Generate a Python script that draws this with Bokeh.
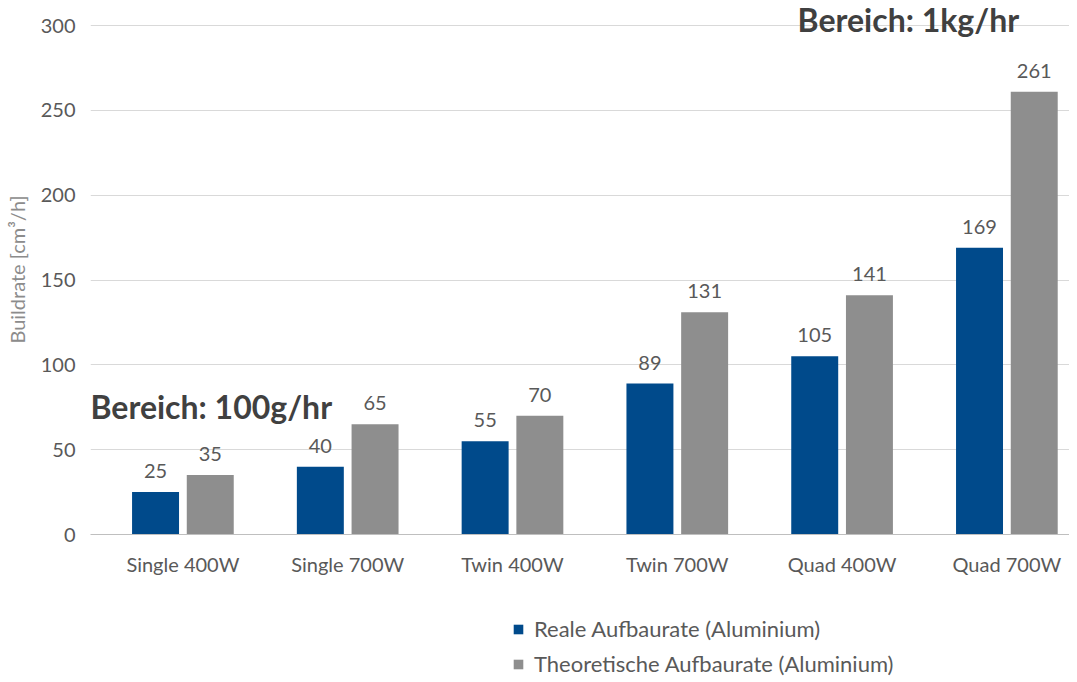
from bokeh.plotting import figure
from bokeh.layouts import column
from bokeh.models import (ColumnDataSource, Range1d, FixedTicker, LabelSet, Label,
                          Legend, LegendItem)
from bokeh.core.properties import value
from bokeh.embed import file_html
from bokeh.resources import INLINE

categories = ["Single 400W", "Single 700W", "Twin 400W", "Twin 700W", "Quad 400W", "Quad 700W"]
real_values = [25, 40, 55, 89, 105, 169]
theo_values = [35, 65, 70, 131, 141, 261]
series_names = ["Reale Aufbaurate (Aluminium)", "Theoretische Aufbaurate (Aluminium)"]
y_ticks = [0, 50, 100, 150, 200, 250, 300]

FONT = "Lato"
TXT = "#595959"
BLUE = "#004A8B"
GRAY = "#8E8E8E"

centers = [i + 0.5 for i in range(len(categories))]
off = 0.166
bw = 0.285

src_real = ColumnDataSource(dict(x=[c - off for c in centers], y=real_values,
                                 lab=[str(v) for v in real_values]))
src_theo = ColumnDataSource(dict(x=[c + off for c in centers], y=theo_values,
                                 lab=[str(v) for v in theo_values]))

p = figure(width=1069, height=590, output_backend="svg", toolbar_location=None,
           x_range=Range1d(-0.0607, 5.88), y_range=Range1d(0, 312.4),
           min_border_left=90, min_border_right=0, min_border_top=4, min_border_bottom=56)
p.outline_line_color = None
p.background_fill_color = "white"

r1 = p.vbar(x="x", top="y", width=bw, source=src_real, fill_color=BLUE, line_color=None)
r2 = p.vbar(x="x", top="y", width=bw, source=src_theo, fill_color=GRAY, line_color=None)

for s in (src_real, src_theo):
    p.add_layout(LabelSet(x="x", y="y", text="lab", source=s, text_align="center",
                          text_baseline="bottom", y_offset=14, text_font=value(FONT),
                          text_font_size=value("20px"), text_color=TXT))

# axes
p.xaxis.ticker = FixedTicker(ticks=centers)
p.xaxis.major_label_overrides = {c: n for c, n in zip(centers, categories)}
p.xaxis.major_tick_line_color = None
p.xaxis.minor_tick_line_color = None
p.xaxis.axis_line_color = "#bfbfbf"
p.xaxis.major_label_text_font = FONT
p.xaxis.major_label_text_font_size = "20px"
p.xaxis.major_label_text_color = TXT
p.xaxis.major_label_standoff = 11

p.yaxis.ticker = FixedTicker(ticks=y_ticks)
p.yaxis.major_tick_line_color = None
p.yaxis.minor_tick_line_color = None
p.yaxis.axis_line_color = None
p.yaxis.major_label_text_font = FONT
p.yaxis.major_label_text_font_size = "20px"
p.yaxis.major_label_text_color = TXT
p.yaxis.major_label_standoff = 9
p.yaxis.axis_label = "Buildrate [cm³/h]"
p.yaxis.axis_label_text_font = FONT
p.yaxis.axis_label_text_font_style = "normal"
p.yaxis.axis_label_text_font_size = "20px"
p.yaxis.axis_label_text_color = "#8c8c8c"
p.yaxis.axis_label_standoff = 9

p.xgrid.grid_line_color = None
p.ygrid.grid_line_color = "#d9d9d9"
p.ygrid.ticker = FixedTicker(ticks=y_ticks)

# annotations
p.add_layout(Label(x=4.23, y=303.5, text="Bereich: 1kg/hr", text_font=FONT,
                   text_font_style="bold", text_font_size="32px", text_color="#404040",
                   text_baseline="middle", text_align="left"))
p.add_layout(Label(x=-0.0607, y=75.5, text="Bereich: 100g/hr", text_font=FONT,
                   text_font_style="bold", text_font_size="32px", text_color="#404040",
                   text_baseline="middle", text_align="left"))

# legend panel
q = figure(width=1069, height=88, output_backend="svg", toolbar_location=None,
           x_range=Range1d(0, 1), y_range=Range1d(0, 1),
           min_border_left=0, min_border_right=0, min_border_top=0, min_border_bottom=0)
q.axis.visible = False
q.grid.visible = False
q.outline_line_color = None
e1 = q.vbar(x=[-5], top=[-5], width=bw, fill_color=BLUE, line_color=None)
e2 = q.vbar(x=[-5], top=[-5], width=bw, fill_color=GRAY, line_color=None)
legend = Legend(items=[LegendItem(label=series_names[0], renderers=[e1]),
                       LegendItem(label=series_names[1], renderers=[e2])],
                location=(422, 1), orientation="vertical",
                glyph_width=12, glyph_height=12, label_standoff=10,
                label_text_font=FONT, label_text_font_size="22px", label_text_color=TXT,
                label_height=22, spacing=8, padding=0, margin=0,
                border_line_color=None, background_fill_alpha=0)
q.add_layout(legend, "center")

layout = column(p, q, spacing=0)
open("out.html", "w").write(file_html(layout, INLINE))
